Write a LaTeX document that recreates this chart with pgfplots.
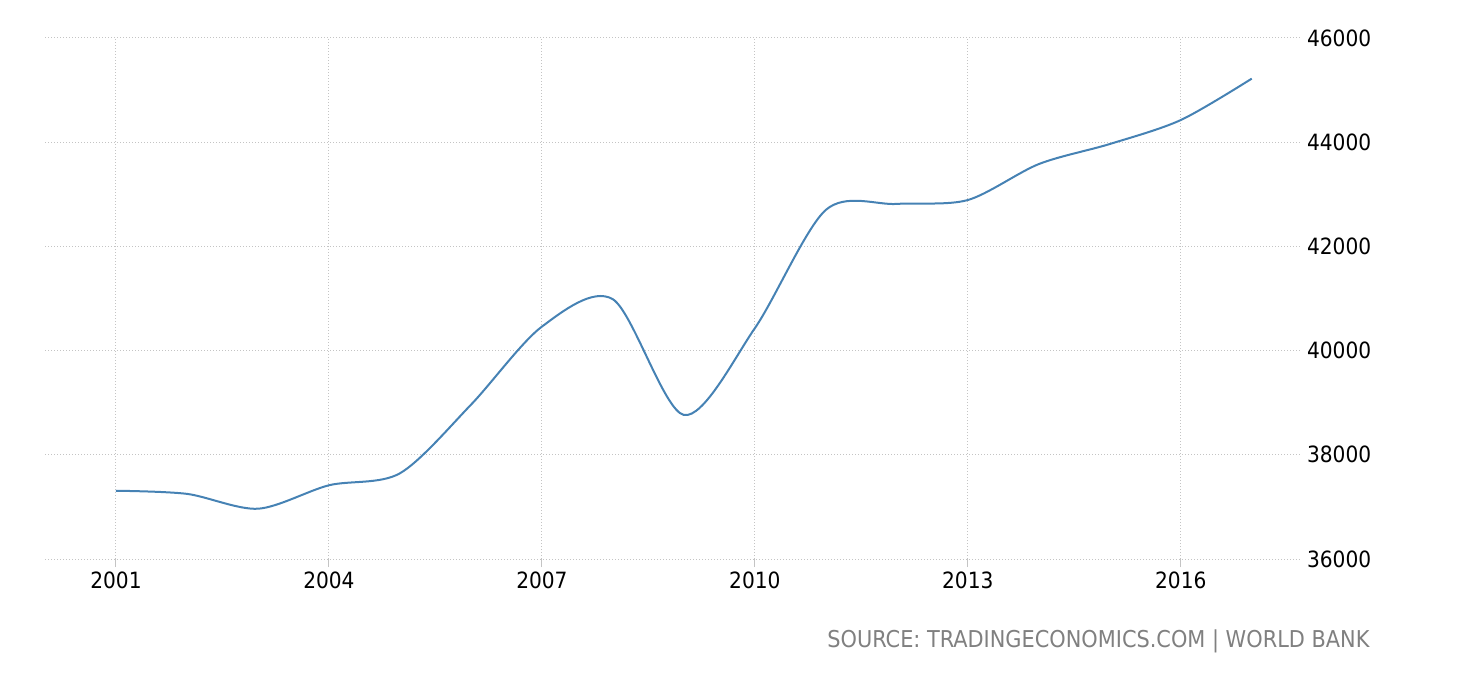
\documentclass[border=0pt]{standalone}
\usepackage{pgfplots}
\pgfplotsset{compat=1.18}
\usepackage{fontspec}
\setmainfont{DejaVu Sans Condensed}
\definecolor{lineblue}{HTML}{4682B4}
\definecolor{gridgray}{HTML}{C4C4C4}
\definecolor{srcgray}{HTML}{808080}
\begin{document}
\begin{tikzpicture}
\useasboundingbox (0,0) rectangle (730pt,340pt);
\begin{axis}[
  at={(22.5pt,60.5pt)}, anchor=south west,
  scale only axis, width=627.5pt, height=260.5pt,
  xmin=2000, xmax=2017.68, ymin=36000, ymax=46000,
  axis line style={draw=none},
  scaled y ticks=false, scaled x ticks=false,
  xtick={2001,2004,2007,2010,2013,2016},
  ytick={36000,38000,40000,42000,44000,46000},
  xticklabel style={/pgf/number format/1000 sep={}, font=\fontsize{11.2}{13}\selectfont, yshift=1pt},
  yticklabel style={/pgf/number format/1000 sep={}, font=\fontsize{11.2}{13}\selectfont, anchor=west, xshift=0pt},
  /pgf/number format/assume math mode=true,
  yticklabel pos=right,
  xtick pos=bottom, xtick align=outside,
  major tick length=4pt,
  xtick style={gridgray, line width=0.5pt},
  ytick style={draw=none},
  grid=major,
  major grid style={gridgray, dash pattern=on 0.5pt off 1pt, line width=0.5pt},
  clip=false,
]
\addplot[lineblue, line width=1pt, smooth] coordinates {
(2001,37310) (2002,37250) (2003,36965) (2004,37415) (2005,37645)
(2006,38960) (2007,40460) (2008,40985) (2009,38765) (2010,40430)
(2011,42700) (2012,42815) (2013,42890) (2014,43580) (2015,43965)
(2016,44425) (2017,45220)
};
\end{axis}
\node[anchor=east, text=srcgray, font=\fontsize{11.6}{14}\selectfont, inner sep=0pt] at (685pt,19.5pt) {SOURCE: TRADINGECONOMICS.COM | WORLD BANK};
\end{tikzpicture}
\end{document}
